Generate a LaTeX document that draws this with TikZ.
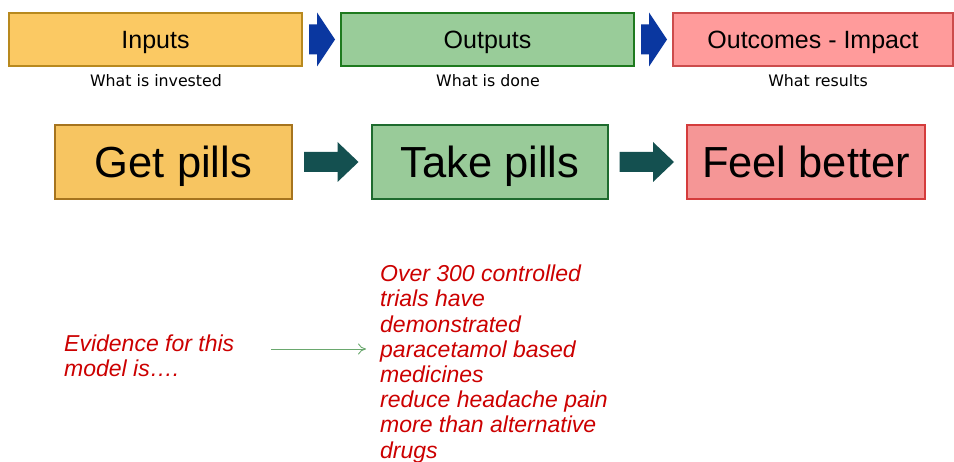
\documentclass[tikz,border=0pt]{standalone}
\usepackage{fontspec}
\setmainfont{Liberation Sans}
\newfontfamily\subfont{DejaVu Sans}
\usetikzlibrary{calc,arrows.meta}

\definecolor{inFill}{HTML}{FBC963}
\definecolor{inLine}{HTML}{B8891E}
\definecolor{outFill}{HTML}{99CC99}
\definecolor{outLine}{HTML}{1E7A1E}
\definecolor{resFill}{HTML}{FF9B9B}
\definecolor{resLine}{HTML}{CC4C4C}
\definecolor{getFill}{HTML}{F7C561}
\definecolor{getLine}{HTML}{A6741E}
\definecolor{takeFill}{HTML}{99CB99}
\definecolor{takeLine}{HTML}{1E6B2E}
\definecolor{feelFill}{HTML}{F59696}
\definecolor{feelLine}{HTML}{D43C3C}
\definecolor{chevron}{RGB}{10,55,160}
\definecolor{teal}{RGB}{20,80,80}
\definecolor{note}{RGB}{204,0,0}
\definecolor{pointer}{HTML}{6AA86E}

\tikzset{
  headbox/.style={draw, line width=2.4pt, minimum height=53pt, inner sep=0pt,
    font=\fontsize{25}{30}\selectfont, text height=17.9pt, text depth=0pt},
  pillbox/.style={draw, line width=2.4pt, minimum height=74pt, inner sep=0pt,
    font=\fontsize{43.5}{50}\selectfont, text height=31.2pt, text depth=0pt},
  caption/.style={font=\subfont\fontsize{15.8}{19}\selectfont, inner sep=0pt, anchor=base},
  % multi-line notes are anchored on the baseline of their last line
  notetext/.style={text=note, align=left, inner sep=0pt, anchor=base west,
    font=\fontsize{23}{25.2}\selectfont\itshape},
}

\begin{document}
\begin{tikzpicture}[x=1pt, y=-1pt]
  \useasboundingbox[fill=white] (0,0) rectangle (954,462);

  % top row: stages of the model
  \node[headbox, fill=inFill, draw=inLine, minimum width=293pt] (inputs) at (155.5,39.5) {Inputs};
  \node[headbox, fill=outFill, draw=outLine, minimum width=293pt] (outputs) at (487.5,39.5) {Outputs};
  \node[headbox, fill=resFill, draw=resLine, minimum width=280pt] (outcomes) at (813,39.5) {Outcomes - Impact};

  \node[caption] (capIn) at (156,87) {What is invested};
  \node[caption] (capOut) at (488,87) {What is done};
  \node[caption] (capRes) at (818,87) {What results};

  % blue block arrows between the stages
  \foreach \a/\b [count=\i] in {inputs/outputs, outputs/outcomes}{
    \coordinate (mid\i) at ($(\a.east)!0.5!(\b.west)$);
    \fill[chevron] ($(mid\i)+(-12.5,-15)$) -- ($(mid\i)+(-4.5,-15)$) -- ($(mid\i)+(-4.5,-27)$)
      -- ($(mid\i)+(13.5,0)$) -- ($(mid\i)+(-4.5,27)$) -- ($(mid\i)+(-4.5,15)$)
      -- ($(mid\i)+(-12.5,15)$) -- cycle;
  }

  % second row: the worked example
  \node[pillbox, fill=getFill, draw=getLine, minimum width=237pt] (get) at (173.5,162) {Get pills};
  \node[pillbox, fill=takeFill, draw=takeLine, minimum width=236pt] (take) at (490,162) {Take pills};
  \node[pillbox, fill=feelFill, draw=feelLine, minimum width=238pt] (feel) at (806,162) {Feel better};

  % dark teal block arrows
  \foreach \a/\b [count=\i] in {get/take, take/feel}{
    \coordinate (pm\i) at ($(\a.east)!0.5!(\b.west)$);
    \fill[teal] ($(pm\i)+(-28,-10)$) -- ($(pm\i)+(5.5,-10)$) -- ($(pm\i)+(5.5,-20)$)
      -- ($(pm\i)+(26.5,0)$) -- ($(pm\i)+(5.5,20)$) -- ($(pm\i)+(5.5,10)$)
      -- ($(pm\i)+(-28,10)$) -- cycle;
  }

  % evidence notes
  \node[notetext] (evidence) at (64,377) {Evidence for this\\model is\dots.};
  \node[notetext] (claims) at (380,458) {Over 300 controlled\\trials have\\demonstrated\\paracetamol based\\medicines\\reduce headache pain\\more than alternative\\drugs};

  \coordinate (ptrA) at (271,349);
  \coordinate (ptrB) at (366,349);
  \draw[pointer, line width=0.9pt, -{To[length=8pt,width=11pt]}] (ptrA) -- (ptrB);
\end{tikzpicture}
\end{document}
